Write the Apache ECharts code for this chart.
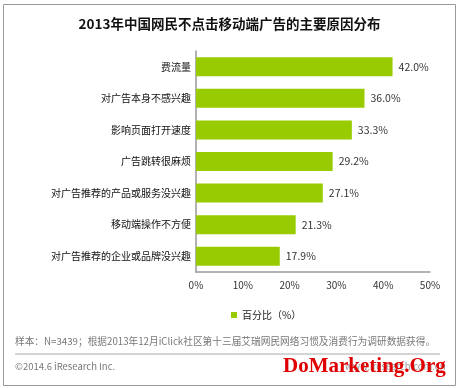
<!DOCTYPE html>
<html><head><meta charset="utf-8">
<script src="https://cdn.jsdelivr.net/npm/echarts@6/dist/echarts.min.js"></script>
<style>html,body{margin:0;padding:0;background:#fff}#c{width:459px;height:388px}</style>
</head><body><div id="c"></div>
<script>
const categories = ['费流量','对广告本身不感兴趣','影响页面打开速度','广告跳转很麻烦','对广告推荐的产品或服务没兴趣','移动端操作不方便','对广告推荐的企业或品牌没兴趣'];
const values = [42.0, 36.0, 33.3, 29.2, 27.1, 21.3, 17.9];
const seriesName = '百分比（%）';
const titleText = '2013年中国网民不点击移动端广告的主要原因分布';
const noteText = '样本：N=3439；根据2013年12月iClick社区第十三届艾瑞网民网络习惯及消费行为调研数据获得。';
const copyText = '©2014.6 iResearch Inc.';
const siteText = 'www.iresearch.com.cn';
const markText = 'DoMarketing.Org';
const FF = '"Noto Sans CJK SC", "Noto Sans", sans-serif';

const chart = echarts.init(document.getElementById('c'));
chart.setOption({
  animation: false,
  textStyle: {fontFamily: FF},
  title: {text: titleText, left: 'center', top: 12,
    textStyle: {fontSize: 13.5, fontWeight: 'bold', color: '#111', fontFamily: FF}},
  grid: {left: 196, right: 29, top: 51, height: 221, containLabel: false},
  legend: {data: [seriesName], left: 226, top: 305, itemWidth: 6, itemHeight: 6, itemGap: 4,
    icon: 'rect', textStyle: {fontSize: 10, color: '#222'}},
  xAxis: {type: 'value', min: 0, max: 50, interval: 10,
    axisLine: {show: true, lineStyle: {color: '#999', width: 1.5}},
    axisTick: {show: false}, splitLine: {show: false},
    axisLabel: {formatter: '{value}%', fontSize: 10, color: '#333', margin: 8}},
  yAxis: {type: 'category', data: categories, inverse: true,
    axisLine: {show: true, lineStyle: {color: '#999', width: 1.5}},
    axisTick: {show: false},
    axisLabel: {fontSize: 10, color: '#111', margin: 5}},
  series: [{name: seriesName, type: 'bar', data: values, barWidth: 19,
    itemStyle: {color: '#99CC00'},
    label: {show: true, position: 'right', distance: 6, fontSize: 10.5, color: '#333',
      formatter: p => p.value.toFixed(1) + '%'}}],
  graphic: [
    {type: 'rect', shape: {x: 3.5, y: 4.5, width: 452, height: 381}, style: {fill: 'none', stroke: '#999', lineWidth: 1}, silent: true},
    {type: 'text', left: 15, top: 336, style: {text: noteText, fontSize: 9.7, fill: '#777', fontFamily: FF}},
    {type: 'line', shape: {x1: 15, y1: 354, x2: 440, y2: 354}, style: {stroke: '#aaa', lineWidth: 1}},
    {type: 'text', left: 15, top: 362, style: {text: copyText, fontSize: 9.5, fill: '#777', fontFamily: FF}},
    {type: 'text', left: 345, top: 362, style: {text: siteText, fontSize: 9.5, fill: '#999', fontFamily: FF}},
    {type: 'text', left: 283, top: 356, z: 100, style: {text: markText, fontSize: 21, fontWeight: 'bold', fill: '#e00000', fontFamily: '"Liberation Serif", serif'}}
  ]
});
</script></body></html>
